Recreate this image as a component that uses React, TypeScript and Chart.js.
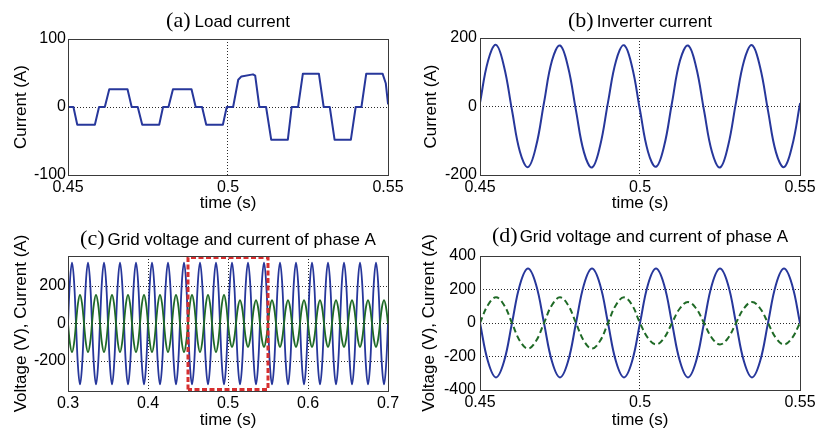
import React, { useEffect, useRef } from "react";
import { Chart, registerables } from "chart.js";

Chart.register(...registerables);

const FONT_SANS = "'Liberation Sans', Arial, Helvetica, sans-serif";
const FONT_SERIF = "'Liberation Serif', 'Times New Roman', serif";

const BLUE = "#27379b";
const GREEN = "#1f6a26";
const RED = "#d62f2f";

// ---------------- (a) Load current ----------------
const A_TIME = [
  0.45, 0.4517, 0.4529, 0.4584, 0.4597, 0.4615, 0.4629, 0.4686, 0.4699, 0.4718,
  0.4732, 0.4785, 0.4797, 0.4814, 0.4828, 0.4886, 0.4899, 0.4919, 0.4932, 0.4984,
  0.4996, 0.5016, 0.5032, 0.5042, 0.5078, 0.5085, 0.5098, 0.5119, 0.5135, 0.5187,
  0.5199, 0.5219, 0.5234, 0.5284, 0.5299, 0.5318, 0.5333, 0.5384, 0.5399, 0.5417,
  0.5432, 0.5483, 0.5493, 0.55,
];
const A_LOAD = [
  0, 0, -26, -26, 0, 0, 26, 26, 0, 0,
  -26, -26, 0, 0, 26, 26, 0, 0, -26, -26,
  0, 0, 40, 45, 48, 46, 0, 0, -48, -48,
  0, 0, 49, 49, 0, 0, -48, -48, 0, 0,
  49, 49, 35, 5,
];
const A_X_TICKS = [0.45, 0.5, 0.55];
const A_Y_TICKS = [-100, 0, 100];
const A_X_GRID = [0.5];
const A_Y_GRID = [0];

// ---------------- (b) Inverter current ----------------
const B_START = 0.45;
const SAMPLE_STEP = 0.0025;
const B_INVERTER = [
  11, 133, 180, 117, -11, -133, -177, -117,
  11, 134, 178, 116, -12, -134, -178, -116,
  12, 133, 179, 117, -11, -132, -176, -117,
  11, 134, 178, 117, -11, -133, -178, -116,
  12, 133, 179, 116, -12, -134, -177, -117,
  8,
];
const B_X_TICKS = [0.45, 0.5, 0.55];
const B_Y_TICKS = [-200, 0, 200];
const B_X_GRID = [0.5];
const B_Y_GRID = [0];

// ---------------- (c) Grid voltage and current, 0.3 - 0.7 s ----------------
const C_START = 0.3;
const C_VOLTAGE = [
  0, 230, 325, 230, 0, -230, -325, -230,
  0, 230, 325, 230, 0, -230, -325, -230,
  0, 230, 325, 230, 0, -230, -325, -230,
  0, 230, 325, 230, 0, -230, -325, -230,
  0, 230, 325, 230, 0, -230, -325, -230,
  0, 230, 325, 230, 0, -230, -325, -230,
  0, 230, 325, 230, 0, -230, -325, -230,
  0, 230, 325, 230, 0, -230, -325, -230,
  0, 230, 325, 230, 0, -230, -325, -230,
  0, 230, 325, 230, 0, -230, -325, -230,
  0, 230, 325, 230, 0, -230, -325, -230,
  0, 230, 325, 230, 0, -230, -325, -230,
  0, 230, 325, 230, 0, -230, -325, -230,
  0, 230, 325, 230, 0, -230, -325, -230,
  0, 230, 325, 230, 0, -230, -325, -230,
  0, 230, 325, 230, 0, -230, -325, -230,
  0, 230, 325, 230, 0, -230, -325, -230,
  0, 230, 325, 230, 0, -230, -325, -230,
  0, 230, 325, 230, 0, -230, -325, -230,
  0, 230, 325, 230, 0, -230, -325, -230,
  0,
];
const C_CURRENT = [
  0, -108, -153, -108, 0, 108, 153, 108,
  0, -108, -153, -108, 0, 108, 153, 108,
  0, -108, -153, -108, 0, 108, 153, 108,
  0, -108, -153, -108, 0, 108, 153, 108,
  0, -108, -153, -108, 0, 108, 153, 108,
  0, -108, -153, -108, 0, 108, 153, 108,
  0, -108, -153, -108, 0, 108, 153, 108,
  0, -108, -153, -108, 0, 108, 153, 108,
  0, -108, -153, -108, 0, 108, 153, 108,
  0, -108, -153, -108, 0, 108, 153, 108,
  0, -88, -125, -88, 0, 88, 125, 88,
  0, -88, -125, -88, 0, 88, 125, 88,
  0, -88, -125, -88, 0, 88, 125, 88,
  0, -88, -125, -88, 0, 88, 125, 88,
  0, -88, -125, -88, 0, 88, 125, 88,
  0, -88, -125, -88, 0, 88, 125, 88,
  0, -88, -125, -88, 0, 88, 125, 88,
  0, -88, -125, -88, 0, 88, 125, 88,
  0, -88, -125, -88, 0, 88, 125, 88,
  0, -88, -125, -88, 0, 88, 125, 88,
  0,
];
const C_BOX_TIME = [0.45, 0.45, 0.55, 0.55, 0.45];
const C_BOX_VALUE = [-352, 352, 352, -352, -352];
const C_X_TICKS = [0.3, 0.4, 0.5, 0.6, 0.7];
const C_Y_TICKS = [-200, 0, 200];
const C_X_GRID = [0.4, 0.5, 0.6];
const C_Y_GRID = [-200, 0, 200];

// ---------------- (d) Grid voltage and current, 0.45 - 0.55 s ----------------
const D_START = 0.45;
const D_VOLTAGE = [
  0, -230, -325, -230, 0, 230, 325, 230,
  0, -230, -325, -230, 0, 230, 325, 230,
  0, -230, -325, -230, 0, 230, 325, 230,
  0, -230, -325, -230, 0, 230, 325, 230,
  0, -230, -325, -230, 0, 230, 325, 230,
  0,
];
const D_CURRENT = [
  0, 108, 153, 108, 0, -108, -153, -108,
  0, 108, 153, 108, 0, -108, -153, -108,
  0, 108, 153, 108, 0, -90, -128, -90,
  0, 88, 125, 88, 0, -90, -128, -90,
  0, 88, 125, 88, 0, -90, -128, -90,
  0,
];
const D_X_TICKS = [0.45, 0.5, 0.55];
const D_Y_TICKS = [-400, -200, 0, 200, 400];
const D_X_GRID = [0.5];
const D_Y_GRID = [-200, 0, 200];

// ---------------- helpers ----------------
const pairs = (xs: number[], ys: number[]) => xs.map((x, i) => ({ x, y: ys[i] }));
const sampled = (start: number, ys: number[]) =>
  ys.map((y, i) => ({ x: Math.round((start + i * SAMPLE_STEP) * 10000) / 10000, y }));

const framePlugin = {
  id: "frame",
  afterDatasetsDraw(chart: any) {
    const { ctx, chartArea } = chart;
    const { left, top, right, bottom } = chartArea;
    ctx.save();
    ctx.strokeStyle = "#3a3a3a";
    ctx.lineWidth = 1;
    ctx.setLineDash([]);
    ctx.strokeRect(Math.round(left) + 0.5, Math.round(top) + 0.5, Math.round(right - left), Math.round(bottom - top));
    ctx.restore();
  },
};

const titlePlugin = {
  id: "panelTitle",
  afterDraw(chart: any, _args: any, opts: any) {
    const { ctx, chartArea } = chart;
    ctx.save();
    ctx.fillStyle = "#000";
    ctx.textBaseline = "alphabetic";
    ctx.textAlign = "left";
    const serif = `22px ${FONT_SERIF}`;
    const sans = `17px ${FONT_SANS}`;
    ctx.font = serif;
    const w1 = ctx.measureText(opts.label).width;
    ctx.font = sans;
    const w2 = ctx.measureText(opts.text).width;
    const total = w1 + opts.gap + w2;
    const cx = (chartArea.left + chartArea.right) / 2;
    const x = cx - total / 2;
    const y = chartArea.top - opts.offset;
    ctx.font = serif;
    ctx.fillText(opts.label, x, y);
    ctx.font = sans;
    ctx.fillText(opts.text, x + w1 + opts.gap, y);
    ctx.restore();
  },
};

type PanelSpec = {
  left: number;
  top: number;
  w: number;
  h: number;
  yAxisWidth: number;
  xAxisHeight: number;
  padTop: number;
  padRight: number;
  xMin: number;
  xMax: number;
  yMin: number;
  yMax: number;
  xTicks: number[];
  yTicks: number[];
  xGrid: number[];
  yGrid: number[];
  yTitle: string;
  yTitlePad: number;
  xTitlePad: number;
  yTickPad: number;
  label: string;
  text: string;
  titleOffset: number;
  titleGap: number;
  datasets: any[];
};

const fmt = (v: number) => String(Math.round(v * 1000) / 1000);

function buildConfig(p: PanelSpec): any {
  const gridColor = (list: number[]) => (ctx: any) =>
    ctx.tick && list.includes(ctx.tick.value) ? "#2a2a2a" : "rgba(0,0,0,0)";
  return {
    type: "line",
    data: { datasets: p.datasets },
    options: {
      animation: false,
      responsive: false,
      maintainAspectRatio: false,
      devicePixelRatio: 1,
      events: [],
      layout: { padding: { left: 0, top: p.padTop, right: p.padRight, bottom: 0 } },
      elements: { point: { radius: 0 } },
      plugins: {
        legend: { display: false },
        tooltip: { enabled: false },
        title: { display: false },
        panelTitle: { label: p.label, text: p.text, offset: p.titleOffset, gap: p.titleGap },
      },
      scales: {
        x: {
          type: "linear",
          min: p.xMin,
          max: p.xMax,
          afterBuildTicks: (s: any) => {
            s.ticks = p.xTicks.map((v) => ({ value: v }));
          },
          afterFit: (s: any) => {
            s.height = p.xAxisHeight;
          },
          grid: { color: gridColor(p.xGrid), lineWidth: 1, drawTicks: false },
          border: { display: false, dash: [1, 2] },
          ticks: {
            color: "#000",
            font: { family: FONT_SANS, size: 16 },
            padding: 3,
            maxRotation: 0,
            autoSkip: false,
            callback: (v: any) => fmt(Number(v)),
          },
          title: {
            display: true,
            text: "time (s)",
            color: "#000",
            font: { family: FONT_SANS, size: 17 },
            padding: { top: 0, bottom: p.xTitlePad },
          },
        },
        y: {
          type: "linear",
          min: p.yMin,
          max: p.yMax,
          afterBuildTicks: (s: any) => {
            s.ticks = p.yTicks.map((v) => ({ value: v }));
          },
          afterFit: (s: any) => {
            s.width = p.yAxisWidth;
          },
          grid: { color: gridColor(p.yGrid), lineWidth: 1, drawTicks: false },
          border: { display: false, dash: [1, 2] },
          ticks: {
            color: "#000",
            font: { family: FONT_SANS, size: 16 },
            padding: p.yTickPad,
            autoSkip: false,
            callback: (v: any) => fmt(Number(v)),
          },
          title: {
            display: true,
            text: p.yTitle,
            color: "#000",
            font: { family: FONT_SANS, size: 17 },
            padding: { top: p.yTitlePad, bottom: 0 },
          },
        },
      },
    },
    plugins: [framePlugin, titlePlugin],
  };
}

const lineDs = (
  data: any[],
  color: string,
  width: number,
  dash: number[] = [],
  tension = 0.4
) => ({
  data,
  borderColor: color,
  backgroundColor: color,
  borderWidth: width,
  borderDash: dash,
  borderCapStyle: dash.length ? "butt" : "round",
  borderJoinStyle: dash.length ? "miter" : "round",
  tension,
  pointRadius: 0,
  fill: false,
});

const PANELS: PanelSpec[] = [
  {
    left: 0, top: 0, w: 430, h: 216,
    yAxisWidth: 68, xAxisHeight: 41, padTop: 39, padRight: 42,
    xMin: 0.45, xMax: 0.55, yMin: -100, yMax: 100,
    xTicks: A_X_TICKS, yTicks: A_Y_TICKS, xGrid: A_X_GRID, yGrid: A_Y_GRID,
    yTitle: "Current (A)", yTitlePad: 11, xTitlePad: 2, yTickPad: 2,
    label: "(a)", text: "Load current", titleOffset: 12, titleGap: 4,
    datasets: [lineDs(pairs(A_TIME, A_LOAD), BLUE, 2, [], 0)],
  },
  {
    left: 408, top: 0, w: 430, h: 216,
    yAxisWidth: 72, xAxisHeight: 41, padTop: 38, padRight: 38,
    xMin: 0.45, xMax: 0.55, yMin: -200, yMax: 200,
    xTicks: B_X_TICKS, yTicks: B_Y_TICKS, xGrid: B_X_GRID, yGrid: B_Y_GRID,
    yTitle: "Current (A)", yTitlePad: 13, xTitlePad: 2, yTickPad: 3,
    label: "(b)", text: "Inverter current", titleOffset: 11, titleGap: 3,
    datasets: [lineDs(sampled(B_START, B_INVERTER), BLUE, 2)],
  },
  {
    left: 0, top: 216, w: 430, h: 217,
    yAxisWidth: 68, xAxisHeight: 42, padTop: 40, padRight: 42,
    xMin: 0.3, xMax: 0.7, yMin: -360, yMax: 360,
    xTicks: C_X_TICKS, yTicks: C_Y_TICKS, xGrid: C_X_GRID, yGrid: C_Y_GRID,
    yTitle: "Voltage (V), Current (A)", yTitlePad: 11, xTitlePad: 2, yTickPad: 2,
    label: "(c)", text: "Grid voltage and current of phase A", titleOffset: 11, titleGap: 3,
    datasets: [
      lineDs(pairs(C_BOX_TIME, C_BOX_VALUE), RED, 3, [5, 2.5], 0),
      lineDs(sampled(C_START, C_CURRENT), GREEN, 1.8),
      lineDs(sampled(C_START, C_VOLTAGE), BLUE, 1.8),
    ],
  },
  {
    left: 408, top: 216, w: 430, h: 217,
    yAxisWidth: 72, xAxisHeight: 43, padTop: 40, padRight: 38,
    xMin: 0.45, xMax: 0.55, yMin: -400, yMax: 400,
    xTicks: D_X_TICKS, yTicks: D_Y_TICKS, xGrid: D_X_GRID, yGrid: D_Y_GRID,
    yTitle: "Voltage (V), Current (A)", yTitlePad: 11, xTitlePad: 2, yTickPad: 4,
    label: "(d)", text: "Grid voltage and current of phase A", titleOffset: 14, titleGap: 2,
    datasets: [
      lineDs(sampled(D_START, D_CURRENT), GREEN, 2, [6, 3.5]),
      lineDs(sampled(D_START, D_VOLTAGE), BLUE, 2),
    ],
  },
];

function Panel({ spec }: { spec: PanelSpec }) {
  const ref = useRef<HTMLCanvasElement | null>(null);
  useEffect(() => {
    if (!ref.current) return;
    const chart = new Chart(ref.current, buildConfig(spec));
    return () => chart.destroy();
  }, [spec]);
  return (
    <canvas
      ref={ref}
      width={spec.w}
      height={spec.h}
      style={{ position: "absolute", left: spec.left, top: spec.top, width: spec.w, height: spec.h }}
    />
  );
}

export default function App() {
  return (
    <div
      style={{
        position: "absolute",
        left: 0,
        top: 0,
        width: 816,
        height: 433,
        overflow: "hidden",
        background: "#fff",
      }}
    >
      {PANELS.map((p, i) => (
        <Panel key={i} spec={p} />
      ))}
    </div>
  );
}
